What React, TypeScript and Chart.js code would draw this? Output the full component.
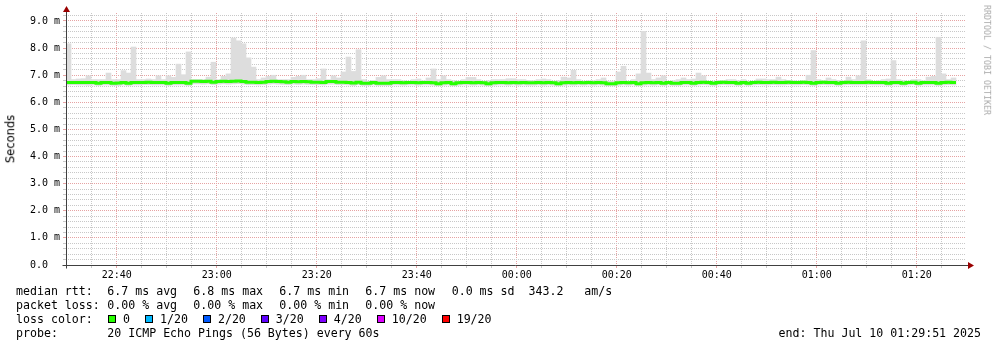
import React, { useEffect, useRef } from 'react';
import { Chart, registerables } from 'chart.js';
Chart.register(...registerables);

// ---- data (values in milliseconds, one sample per minute starting 22:29:51) ----
const startTime = '22:29:51';
const rangeMinutes = 180;

const rttMax = [
  8.16, 6.84, 6.86, 6.87, 6.98, 6.84, 6.84, 6.84, 7.08, 6.84,
  6.84, 7.17, 7.08, 8.04, 6.84, 6.84, 6.86, 6.84, 6.98, 6.84,
  6.98, 6.92, 7.41, 7.02, 7.86, 6.84, 6.84, 6.84, 6.93, 7.48,
  6.84, 6.96, 7.05, 8.37, 8.27, 8.16, 7.64, 7.30, 6.84, 6.90,
  6.96, 7.00, 6.84, 6.84, 6.84, 6.92, 6.96, 7.00, 6.84, 6.84,
  6.87, 7.23, 6.84, 6.98, 6.90, 7.12, 7.67, 7.14, 7.94, 6.84,
  6.78, 6.81, 6.92, 6.98, 6.84, 6.84, 6.84, 6.80, 6.78, 6.84,
  6.86, 6.80, 6.90, 7.23, 6.84, 6.98, 6.84, 6.80, 6.78, 6.84,
  6.92, 6.92, 6.84, 6.78, 6.80, 6.84, 6.84, 6.84, 6.87, 6.87,
  6.84, 6.84, 6.81, 6.80, 6.84, 6.86, 6.84, 6.78, 6.80, 6.93,
  6.90, 7.18, 6.84, 6.78, 6.80, 6.80, 6.84, 6.90, 6.78, 6.78,
  7.12, 7.33, 6.78, 6.84, 7.05, 8.62, 7.08, 6.84, 6.90, 6.98,
  6.78, 6.80, 6.84, 6.90, 6.84, 6.86, 7.08, 6.98, 6.78, 6.78,
  6.80, 6.80, 6.84, 6.84, 6.80, 6.84, 6.78, 6.78, 6.86, 6.86,
  6.84, 6.84, 6.93, 6.84, 6.81, 6.80, 6.78, 6.80, 7.00, 7.91,
  6.84, 6.80, 6.90, 6.84, 6.81, 6.80, 6.93, 6.84, 6.98, 8.27,
  6.84, 6.78, 6.80, 6.84, 6.86, 7.54, 6.84, 6.80, 6.78, 6.84,
  6.84, 6.80, 6.93, 6.96, 8.40, 7.05, 6.84, 6.90,
];

const rttMin = [
  6.64, 6.65, 6.64, 6.64, 6.63, 6.64, 6.62, 6.64, 6.64, 6.62,
  6.62, 6.64, 6.62, 6.64, 6.64, 6.65, 6.65, 6.64, 6.64, 6.64,
  6.62, 6.64, 6.64, 6.64, 6.62, 6.68, 6.68, 6.67, 6.68, 6.65,
  6.67, 6.68, 6.67, 6.68, 6.69, 6.67, 6.65, 6.65, 6.64, 6.65,
  6.67, 6.68, 6.67, 6.66, 6.65, 6.67, 6.66, 6.67, 6.66, 6.65,
  6.65, 6.64, 6.67, 6.67, 6.65, 6.65, 6.64, 6.62, 6.65, 6.62,
  6.62, 6.64, 6.62, 6.62, 6.62, 6.64, 6.64, 6.63, 6.64, 6.64,
  6.63, 6.64, 6.64, 6.63, 6.61, 6.63, 6.64, 6.61, 6.63, 6.64,
  6.64, 6.63, 6.64, 6.63, 6.61, 6.63, 6.64, 6.64, 6.63, 6.64,
  6.63, 6.64, 6.63, 6.63, 6.64, 6.63, 6.64, 6.63, 6.61, 6.63,
  6.64, 6.63, 6.64, 6.63, 6.64, 6.63, 6.64, 6.63, 6.61, 6.61,
  6.63, 6.64, 6.63, 6.64, 6.61, 6.63, 6.64, 6.63, 6.64, 6.62,
  6.64, 6.62, 6.62, 6.64, 6.64, 6.62, 6.64, 6.65, 6.64, 6.62,
  6.64, 6.65, 6.64, 6.64, 6.62, 6.64, 6.62, 6.64, 6.65, 6.64,
  6.64, 6.65, 6.64, 6.64, 6.65, 6.64, 6.64, 6.65, 6.64, 6.62,
  6.64, 6.65, 6.64, 6.64, 6.62, 6.64, 6.65, 6.64, 6.64, 6.64,
  6.65, 6.64, 6.64, 6.64, 6.62, 6.64, 6.64, 6.62, 6.64, 6.65,
  6.62, 6.64, 6.64, 6.64, 6.62, 6.64, 6.65, 6.64,
];

const rttMedian = [
  6.73, 6.73, 6.73, 6.73, 6.73, 6.73, 6.70, 6.73, 6.73, 6.70,
  6.71, 6.73, 6.70, 6.73, 6.73, 6.73, 6.74, 6.73, 6.73, 6.73,
  6.70, 6.73, 6.73, 6.73, 6.70, 6.78, 6.78, 6.77, 6.78, 6.74,
  6.77, 6.78, 6.77, 6.78, 6.79, 6.77, 6.74, 6.74, 6.73, 6.74,
  6.77, 6.78, 6.77, 6.76, 6.74, 6.77, 6.76, 6.77, 6.76, 6.74,
  6.74, 6.73, 6.77, 6.77, 6.74, 6.74, 6.73, 6.71, 6.74, 6.70,
  6.70, 6.73, 6.70, 6.70, 6.70, 6.73, 6.73, 6.72, 6.73, 6.73,
  6.72, 6.73, 6.73, 6.72, 6.69, 6.72, 6.73, 6.69, 6.72, 6.73,
  6.73, 6.72, 6.73, 6.72, 6.69, 6.72, 6.73, 6.73, 6.72, 6.73,
  6.72, 6.73, 6.72, 6.72, 6.73, 6.72, 6.73, 6.72, 6.69, 6.72,
  6.73, 6.72, 6.73, 6.72, 6.73, 6.72, 6.73, 6.72, 6.69, 6.69,
  6.72, 6.73, 6.72, 6.73, 6.69, 6.72, 6.73, 6.72, 6.73, 6.70,
  6.73, 6.70, 6.70, 6.73, 6.73, 6.70, 6.73, 6.74, 6.73, 6.70,
  6.73, 6.74, 6.73, 6.73, 6.70, 6.73, 6.70, 6.73, 6.74, 6.73,
  6.73, 6.74, 6.73, 6.73, 6.74, 6.73, 6.73, 6.74, 6.73, 6.70,
  6.73, 6.74, 6.73, 6.73, 6.70, 6.73, 6.74, 6.73, 6.73, 6.73,
  6.74, 6.73, 6.73, 6.73, 6.70, 6.73, 6.73, 6.70, 6.73, 6.74,
  6.70, 6.73, 6.73, 6.73, 6.70, 6.73, 6.74, 6.73,
];

const timeTickLabels = ['22:40', '23:00', '23:20', '23:40', '00:00', '00:20', '00:40', '01:00', '01:20'];
const yTickLabels = ['0.0  ', '1.0 m', '2.0 m', '3.0 m', '4.0 m', '5.0 m', '6.0 m', '7.0 m', '8.0 m', '9.0 m'];
const yMax = 9.295;

const lossLabels = ['0', '1/20', '2/20', '3/20', '4/20', '10/20', '19/20'];
const lossColors = ['#26ff00', '#00b8ff', '#0059ff', '#5e00ff', '#7e00ff', '#dd00ff', '#ff0000'];

const statsRtt = ['6.7 ms avg', '6.8 ms max', '6.7 ms min', '6.7 ms now', '0.0 ms sd  343.2   am/s'];
const statsLoss = ['0.00 % avg', '0.00 % max', '0.00 % min', '0.00 % now'];

// ---- helpers ----
const toMin = (s: string) => {
  const p = s.split(':').map(Number);
  return p[0] * 60 + p[1] + (p[2] || 0) / 60;
};
const startMin = toMin(startTime);
const offsetOf = (label: string) => {
  let m = toMin(label);
  if (m < startMin) m += 1440;
  return m - startMin;
};
const majorOffsets = timeTickLabels.map(offsetOf);
const firstMinor = majorOffsets[0] - 5 * Math.floor(majorOffsets[0] / 5);
const xTickValues: number[] = [];
for (let v = firstMinor; v <= rangeMinutes; v += 5) xTickValues.push(Math.round(v * 1000) / 1000);
const yTickValues: number[] = [];
for (let i = 0; i * 0.2 <= yMax; i++) yTickValues.push(Math.round(i * 2) / 10);

const GRID = '#c8c8c8';
const MGRID = '#e6a3a3';
const isMajorX = (v: number) => majorOffsets.some((m) => Math.abs(m - v) < 1e-3);
const isMajorY = (v: number) => Math.abs(v - Math.round(v)) < 1e-6;

const MONO = '"DejaVu Sans Mono", monospace';
const CW = 6.985;

const axesPlugin = {
  id: 'rrdAxes',
  afterDatasetsDraw(chart: any) {
    const { ctx, chartArea, scales } = chart;
    const x0 = Math.round(scales.x.getPixelForValue(0)) + 0.5;
    const y0 = Math.round(scales.y.getPixelForValue(0)) + 0.5;
    ctx.save();
    ctx.setLineDash([]);
    ctx.strokeStyle = '#404040';
    ctx.lineWidth = 1;
    ctx.beginPath();
    ctx.moveTo(x0, y0 + 3);
    ctx.lineTo(x0, chartArea.top - 1);
    ctx.moveTo(x0 - 4, y0);
    ctx.lineTo(chartArea.right + 2, y0);
    ctx.stroke();
    ctx.fillStyle = '#9a0000';
    ctx.beginPath();
    ctx.moveTo(x0 - 3.5, chartArea.top - 1);
    ctx.lineTo(x0 + 3.5, chartArea.top - 1);
    ctx.lineTo(x0, chartArea.top - 7);
    ctx.closePath();
    ctx.fill();
    const xr = chartArea.right + 2;
    ctx.beginPath();
    ctx.moveTo(xr, y0 - 3.5);
    ctx.lineTo(xr, y0 + 3.5);
    ctx.lineTo(xr + 6, y0);
    ctx.closePath();
    ctx.fill();
    ctx.restore();
  },
};

const Txt = ({ x, top, s, right }: { x?: number; top: number; s: string; right?: number }) => (
  <span
    style={{
      position: 'absolute',
      left: x,
      right,
      top,
      font: `11.6px ${MONO}`,
      lineHeight: '14px',
      whiteSpace: 'pre',
      color: '#000',
    }}
  >
    {s}
  </span>
);

export default function App() {
  const ref = useRef<HTMLCanvasElement>(null);

  useEffect(() => {
    if (!ref.current) return;
    const smoke = rttMax.map((v, i) => ({ x: i + 0.5, y: [rttMin[i], v] }));
    const median = rttMedian.map((v, i) => ({ x: i, y: v }));
    median.push({ x: rttMedian.length, y: rttMedian[rttMedian.length - 1] });

    const tickFont = { family: MONO, size: 10 };
    const chart = new Chart(ref.current, {
      type: 'bar',
      data: {
        datasets: [
          {
            type: 'line',
            label: 'median rtt',
            data: median as any,
            borderColor: '#26ff00',
            borderWidth: 3,
            borderCapStyle: 'butt',
            borderJoinStyle: 'miter',
            pointRadius: 0,
            stepped: true,
            fill: false,
            order: 0,
          } as any,
          {
            type: 'bar',
            label: 'smoke',
            data: smoke as any,
            backgroundColor: '#dddddd',
            borderWidth: 0,
            barPercentage: 1,
            categoryPercentage: 1,
            order: 1,
          } as any,
        ],
      },
      options: {
        responsive: false,
        animation: false,
        devicePixelRatio: 1,
        layout: { padding: { top: 13, right: 31, bottom: 0, left: 0 } },
        plugins: { legend: { display: false }, tooltip: { enabled: false } },
        scales: {
          x: {
            type: 'linear',
            offset: false,
            min: 0,
            max: rangeMinutes,
            afterFit: (s: any) => {
              s.height = 82;
            },
            afterBuildTicks: (s: any) => {
              s.ticks = xTickValues.map((v) => ({ value: v }));
            },
            ticks: {
              autoSkip: false,
              maxRotation: 0,
              minRotation: 0,
              padding: 1,
              color: '#000',
              font: tickFont,
              callback: (v: any) => {
                const idx = majorOffsets.findIndex((m) => Math.abs(m - Number(v)) < 1e-3);
                return idx >= 0 ? timeTickLabels[idx] : '';
              },
            },
            grid: {
              offset: false,
              color: (c: any) => (isMajorX(c.tick?.value ?? -1) ? MGRID : GRID),
              tickColor: (c: any) => (isMajorX(c.tick?.value ?? -1) ? MGRID : GRID),
              tickLength: 3,
              lineWidth: 1,
            },
            border: { display: false, dash: [1, 1] },
          },
          y: {
            type: 'linear',
            min: 0,
            max: yMax,
            afterFit: (s: any) => {
              s.width = 66;
            },
            afterBuildTicks: (s: any) => {
              s.ticks = yTickValues.map((v) => ({ value: v }));
            },
            ticks: {
              autoSkip: false,
              padding: 3,
              color: '#000',
              font: tickFont,
              callback: (v: any) => (isMajorY(Number(v)) ? yTickLabels[Math.round(Number(v))] ?? '' : ''),
            },
            grid: {
              color: (c: any) => (isMajorY(c.tick?.value ?? 0.5) ? MGRID : GRID),
              tickColor: (c: any) => (isMajorY(c.tick?.value ?? 0.5) ? MGRID : GRID),
              tickLength: 3,
              lineWidth: 1,
            },
            border: { display: false, dash: [1, 1] },
          },
        },
      } as any,
      plugins: [axesPlugin],
    });
    return () => chart.destroy();
  }, []);

  const statX = [107.3, 193.3, 279.3, 365.3, 451.7];
  const rows = [283.8, 297.8, 311.8, 325.8];

  // loss colour legend layout
  const lossItems: { bx: number; tx: number; label: string; color: string }[] = [];
  let bx = 108;
  lossLabels.forEach((l, i) => {
    lossItems.push({ bx, tx: bx + 15, label: l, color: lossColors[i] });
    bx = bx + 15 + l.length * CW + 15;
  });

  return (
    <div
      style={{
        position: 'absolute',
        left: 0,
        top: 0,
        width: 997,
        height: 347,
        background: '#fff',
        overflow: 'hidden',
      }}
    >
      <canvas
        ref={ref}
        width={997}
        height={347}
        style={{ position: 'absolute', left: 0, top: 0, width: 997, height: 347 }}
      />
      <div
        style={{
          position: 'absolute',
          left: 11.3,
          top: 139,
          transform: 'translate(-50%, -50%) rotate(-90deg)',
          font: '11.5px "DejaVu Sans", sans-serif',
          lineHeight: '1',
          whiteSpace: 'pre',
          color: '#000',
        }}
      >
        Seconds
      </div>
      <div
        style={{
          position: 'absolute',
          left: 987.2,
          top: 60,
          transform: 'translate(-50%, -50%) rotate(90deg)',
          font: `8.3px ${MONO}`,
          lineHeight: '1',
          whiteSpace: 'pre',
          color: '#aaaaaa',
        }}
      >
        RRDTOOL / TOBI OETIKER
      </div>

      <Txt x={16} top={rows[0]} s="median rtt:" />
      {statsRtt.map((s, i) => (
        <Txt key={'r' + i} x={statX[i]} top={rows[0]} s={s} />
      ))}

      <Txt x={16} top={rows[1]} s="packet loss:" />
      {statsLoss.map((s, i) => (
        <Txt key={'l' + i} x={statX[i]} top={rows[1]} s={s} />
      ))}

      <Txt x={16} top={rows[2]} s="loss color:" />
      {lossItems.map((it, i) => (
        <React.Fragment key={'c' + i}>
          <div
            style={{
              position: 'absolute',
              left: it.bx,
              top: 315,
              width: 8,
              height: 8,
              boxSizing: 'border-box',
              border: '1px solid #000',
              background: it.color,
            }}
          />
          <Txt x={it.tx} top={rows[2]} s={it.label} />
        </React.Fragment>
      ))}

      <Txt x={16} top={rows[3]} s="probe:" />
      <Txt x={107.3} top={rows[3]} s="20 ICMP Echo Pings (56 Bytes) every 60s" />
      <Txt right={16} top={rows[3]} s="end: Thu Jul 10 01:29:51 2025" />
    </div>
  );
}
